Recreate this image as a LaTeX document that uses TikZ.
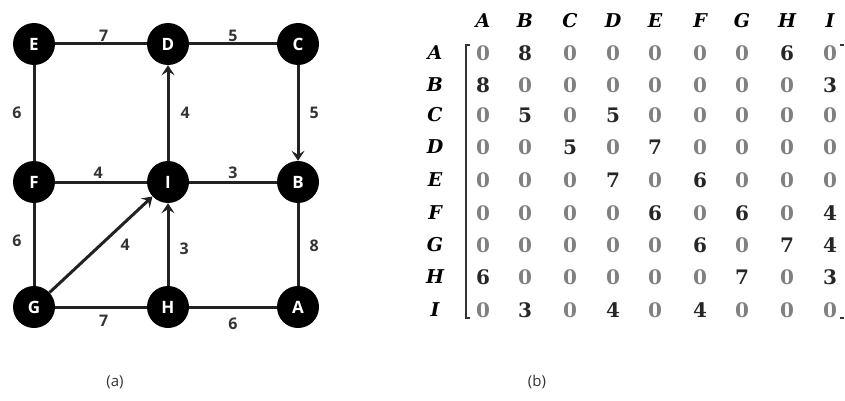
\documentclass[tikz,border=0pt]{standalone}
\usepackage{fontspec}
\setmainfont{Open Sans}
\newfontfamily\matfont{DejaVu Serif}
\newfontfamily\hdrfont{DejaVu Serif}
\usetikzlibrary{arrows.meta}
\definecolor{edgecol}{HTML}{222222}
\definecolor{labcol}{HTML}{333333}
\definecolor{zerocol}{HTML}{808080}
\begin{document}
\begin{tikzpicture}[x=1pt,y=-1pt,
  vert/.style={circle,fill=black,minimum size=42pt,inner sep=0pt,text=white,font=\fontsize{17}{17}\selectfont\bfseries},
  edge/.style={draw=edgecol,line width=3pt},
  arr/.style={edge,-{Stealth[length=10pt,width=13pt,inset=4pt]}},
  wlab/.style={text=labcol,font=\fontsize{16}{16}\selectfont\bfseries,inner sep=1pt},
  hdr/.style={font=\hdrfont\fontsize{19}{19}\selectfont\bfseries\itshape,text=black,inner sep=0pt},
  zero/.style={font=\matfont\fontsize{20}{20}\selectfont\bfseries,text=zerocol,inner sep=0pt},
  nz/.style={font=\matfont\fontsize{20}{20}\selectfont\bfseries,text=black!85,inner sep=0pt},
  captxt/.style={font=\fontsize{15}{15}\selectfont,text=labcol}]
\useasboundingbox (0,0) rectangle (845,401);
% vertices
\node[vert] (E) at (34,44) {E};
\node[vert] (D) at (168,44) {D};
\node[vert] (C) at (298,44) {C};
\node[vert] (F) at (34,182) {F};
\node[vert] (I) at (168,182) {I};
\node[vert] (B) at (298,182) {B};
\node[vert] (G) at (34,307) {G};
\node[vert] (H) at (168,307) {H};
\node[vert] (A) at (298,307) {A};
% edges
\draw[edge] (E) -- node[wlab,above=0pt,pos=0.53]{7} (D);
\draw[edge] (D) -- node[wlab,above=0pt]{5} (C);
\draw[edge] (E) -- node[wlab,left=10pt]{6} (F);
\draw[arr] (I) -- node[wlab,right=10pt]{4} (D);
\draw[arr] (C) -- node[wlab,right=9pt]{5} (B);
\draw[edge] (F) -- node[wlab,above=1pt,pos=0.47]{4} (I);
\draw[edge] (I) -- node[wlab,above=1pt]{3} (B);
\draw[edge] (F) -- node[wlab,left=10pt,pos=0.45]{6} (G);
\draw[arr] (G) -- node[wlab,pos=0.58,xshift=16pt,yshift=-8pt]{4} (I);
\draw[arr] (H) -- node[wlab,right=9pt,pos=0.45]{3} (I);
\draw[edge] (B) -- node[wlab,right=9pt,pos=0.52]{8} (A);
\draw[edge] (G) -- node[wlab,below=6pt,pos=0.53]{7} (H);
\draw[edge] (H) -- node[wlab,below=8pt,pos=0.5]{6} (A);
% captions
\node[captxt] (capa) at (115,382) {(a)};
\node[captxt] (capb) at (537,382) {(b)};
% matrix headers
\foreach \l/\x in {A/483,B/525,C/570,D/613,E/655,F/700,G/742,H/787,I/830}
  \node[hdr] (h\l) at (\x,21) {\l};
\foreach \l/\y in {A/53,B/85,C/115,D/147,E/180,F/213,G/245,H/277,I/310}
  \node[hdr] (r\l) at (435,\y) {\l};
% matrix entries
\newcommand{\matrow}[2]{%
  \foreach \v [count=\c] in {#2} {%
    \pgfmathsetmacro{\xx}{{483,525,570,613,655,700,742,787,830}[\c-1]}%
    \ifnum\v=0 \node[zero] at (\xx,#1) {0};\else\node[nz] at (\xx,#1) {\v};\fi}}
\matrow{53}{0,8,0,0,0,0,0,6,0}
\matrow{85}{8,0,0,0,0,0,0,0,3}
\matrow{115}{0,5,0,5,0,0,0,0,0}
\matrow{147}{0,0,5,0,7,0,0,0,0}
\matrow{180}{0,0,0,7,0,6,0,0,0}
\matrow{213}{0,0,0,0,6,0,6,0,4}
\matrow{245}{0,0,0,0,0,6,0,7,4}
\matrow{277}{6,0,0,0,0,0,7,0,3}
\matrow{310}{0,3,0,4,0,4,0,0,0}
% brackets
\coordinate (bt) at (466,45);
\coordinate (bb) at (466,318);
\draw[line width=2.2pt,draw=black!80] ([xshift=4pt]bt) -- (bt) -- (bb) -- ([xshift=4pt]bb);
\coordinate (rt) at (840,45);
\coordinate (rb) at (840,318);
\draw[line width=1.5pt,draw=black!80] (rt) -- ([xshift=4pt]rt);
\draw[line width=1.5pt,draw=black!80] (rb) -- ([xshift=4pt]rb);
\end{tikzpicture}
\end{document}
